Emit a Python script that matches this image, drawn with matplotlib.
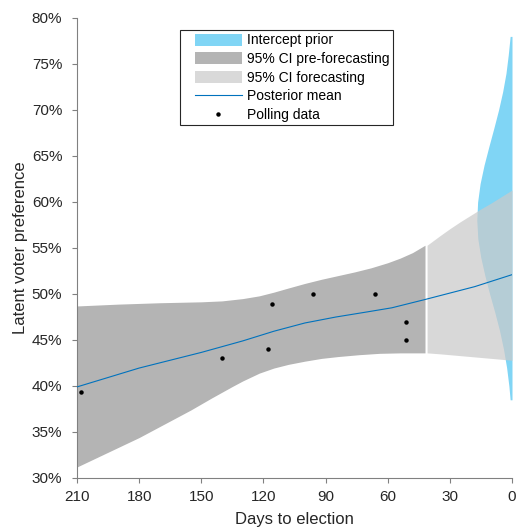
import matplotlib
matplotlib.use("Agg")
import matplotlib.pyplot as plt
import matplotlib.patches as mpatches
from matplotlib.lines import Line2D
from matplotlib.legend_handler import HandlerBase
import numpy as np

plt.rcParams['font.family'] = ['Liberation Sans', 'DejaVu Sans']

# Posterior mean of latent preference (percent) by days to election
mean_days = [210, 180, 150, 130, 115, 100, 85, 70, 58, 42, 30, 18, 0]
mean_pct = [39.9, 41.95, 43.65, 44.9, 45.95, 46.85, 47.5, 48.05, 48.5, 49.4, 50.1, 50.8, 52.1]

# 95% interval before the forecasting window
pre_up_days = [210, 190, 170, 150, 140, 130, 122, 115, 108, 100, 92, 84, 76, 68, 60, 54, 48, 42]
pre_upper = [48.7, 48.9, 49.05, 49.15, 49.25, 49.5, 49.8, 50.2, 50.65, 51.15, 51.6, 52.0,
             52.4, 52.85, 53.4, 53.9, 54.5, 55.3]
pre_lo_days = [210, 195, 180, 165, 155, 145, 135, 130, 122, 115, 108, 100, 92, 84, 74, 64, 54, 42]
pre_lower = [31.2, 32.8, 34.4, 36.2, 37.4, 38.7, 39.95, 40.55, 41.4, 41.95, 42.35, 42.7,
             43.0, 43.2, 43.4, 43.55, 43.6, 43.6]

# 95% interval over the forecasting window
fc_days = [41, 35, 30, 25, 20, 15, 10, 5, 0]
fc_upper = [55.3, 56.3, 57.1, 57.85, 58.55, 59.25, 59.9, 60.6, 61.3]
fc_lower = [43.6, 43.5, 43.4, 43.3, 43.2, 43.1, 43.0, 42.9, 42.8]

# Polls
poll_days = [208, 140, 118, 116, 96, 66, 51, 51]
poll_pct = [39.3, 43.0, 44.0, 48.9, 50.0, 50.0, 47.0, 45.0]

# Intercept prior drawn sideways at election day (width in days)
prior_pct = [38.5, 40, 42, 44, 46, 48, 50, 52, 54, 56, 58, 60, 62, 64, 66, 68, 70, 72, 74, 76, 78]
prior_width = [0.9, 1.5, 2.6, 4.1, 6.0, 8.3, 10.8, 13.1, 15.1, 16.5, 17.0, 16.6, 15.4, 13.5, 11.2, 8.8, 6.5, 4.5, 2.9, 1.8, 0.9]

yticks = [30, 35, 40, 45, 50, 55, 60, 65, 70, 75, 80]
xticks = [210, 180, 150, 120, 90, 60, 30, 0]

prior_color = '#80d5f5'
pre_color = '#b4b4b4'
fc_color = '#cacaca'
fc_alpha = 0.72
line_color = '#0072bd'
axis_color = '#808080'
text_color = '#262626'


class LeadHandler(HandlerBase):
    # legend key drawn in the right part of the handle box, leaving a gap on the left
    def __init__(self, kind, lead=0.19):
        super().__init__()
        self.kind = kind
        self.lead = lead

    def create_artists(self, legend, orig_handle, xdescent, ydescent,
                       width, height, fontsize, trans):
        x0 = -xdescent + width * self.lead
        w = width * (1 - self.lead)
        if self.kind == 'patch':
            h = fontsize * 0.86
            y0 = -ydescent + (height - h) / 2
            art = mpatches.Rectangle((x0, y0), w, h,
                                     facecolor=orig_handle.get_facecolor(),
                                     edgecolor='none', transform=trans)
        elif self.kind == 'line':
            yc = -ydescent + height / 2
            art = Line2D([x0, x0 + w], [yc, yc], color=orig_handle.get_color(),
                         lw=orig_handle.get_linewidth(), transform=trans)
        else:
            yc = -ydescent + height / 2
            art = Line2D([x0 + w / 2], [yc], marker='o', ms=2.2, color='black',
                         ls='none', transform=trans)
        return [art]


fig = plt.figure(figsize=(5.18, 5.27), dpi=100)
ax = fig.add_axes([77 / 518, 1 - 478 / 527, 435 / 518, 460 / 527])

# both band edges on one set of days
band_days = sorted(set(pre_up_days) | set(pre_lo_days), reverse=True)
band_up = np.interp(band_days, pre_up_days[::-1], pre_upper[::-1])
band_lo = np.interp(band_days, pre_lo_days[::-1], pre_lower[::-1])

ax.fill_betweenx(prior_pct, 0, prior_width, color=prior_color, lw=0, zorder=1)
ax.fill_between(band_days, band_up, band_lo, color=pre_color, lw=0, zorder=2)
ax.fill_between(fc_days, fc_upper, fc_lower, color=fc_color, alpha=fc_alpha, lw=0, zorder=2)
ax.plot(mean_days, mean_pct, color=line_color, lw=0.8, zorder=3)
ax.plot(poll_days, poll_pct, 'o', color='black', ms=2.2, zorder=4)

ax.set_xlim(210, 0)
ax.set_ylim(30, 80)
ax.set_xticks(xticks)
ax.set_yticks(yticks)
ax.set_yticklabels(['{}%'.format(v) for v in yticks])

for side in ['top', 'right']:
    ax.spines[side].set_visible(False)
for side in ['left', 'bottom']:
    ax.spines[side].set_color(axis_color)
    ax.spines[side].set_linewidth(0.8)
ax.tick_params(direction='out', length=3.6, width=0.8, color=axis_color,
               labelsize=11, labelcolor=text_color)
ax.tick_params(axis='y', pad=7)
ax.tick_params(axis='x', pad=5)

ax.set_xlabel('Days to election', fontsize=12, color=text_color, labelpad=6)
ax.set_ylabel('Latent voter preference', fontsize=12, color=text_color, labelpad=3)

h_prior = mpatches.Patch(color=prior_color)
h_pre = mpatches.Patch(color=pre_color)
h_fc = mpatches.Patch(color='#d9d9d9')
h_mean = Line2D([], [], color=line_color, lw=0.8)
h_poll = Line2D([], [], marker='o', color='black', ls='none')
leg = ax.legend([h_prior, h_pre, h_fc, h_mean, h_poll],
                ['Intercept prior', '95% CI pre-forecasting', '95% CI forecasting',
                 'Posterior mean', 'Polling data'],
                handler_map={h_prior: LeadHandler('patch'), h_pre: LeadHandler('patch'),
                             h_fc: LeadHandler('patch'), h_mean: LeadHandler('line'),
                             h_poll: LeadHandler('dot')},
                loc='upper left', bbox_to_anchor=(103 / 435, 448 / 460),
                borderaxespad=0, borderpad=0.25, handlelength=4.18,
                handletextpad=0.36, labelspacing=0.33, fontsize=10,
                fancybox=False, framealpha=1)
leg.get_frame().set_edgecolor(text_color)
leg.get_frame().set_linewidth(0.8)
leg.set_zorder(5)

fig.savefig('out.png', dpi=100)
